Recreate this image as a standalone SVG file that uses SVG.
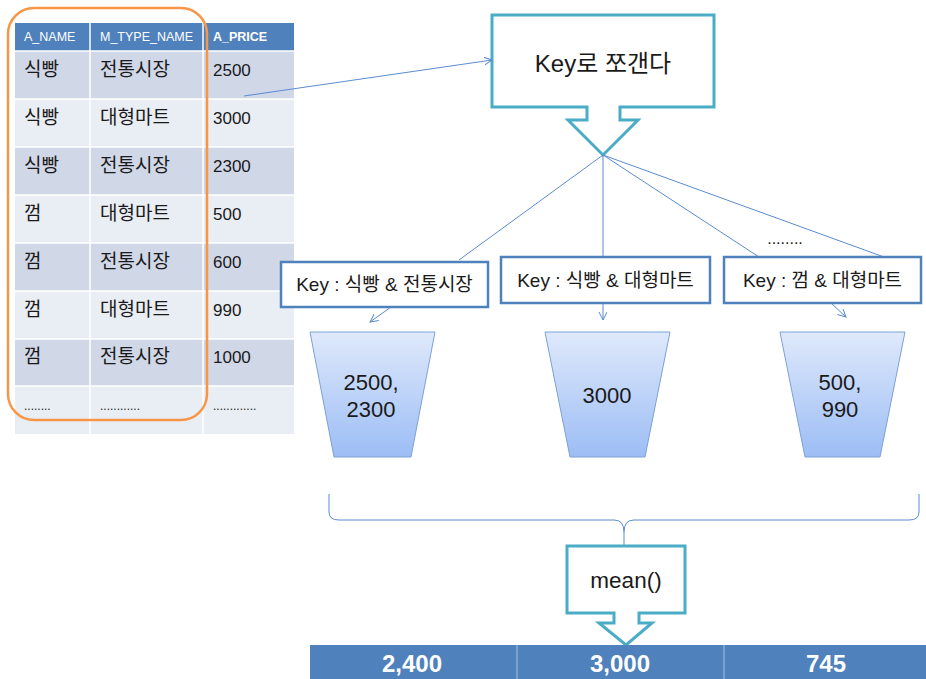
<svg xmlns="http://www.w3.org/2000/svg" width="926" height="679" viewBox="0 0 926 679">
<style>
text{font-family:"Liberation Sans","Noto Sans CJK KR",sans-serif;fill:#1a1a1a}
.hd{font-size:12.5px;fill:#fff}
.cell{font-size:17px}
.ko{font-size:19px}
.dots{font-size:12px}
.dark{fill:#d0d7e7}
.light{fill:#e9edf4}
.key rect{fill:#fff;stroke:#4f81bd;stroke-width:2.5}
.key text{font-size:19px;text-anchor:middle}
.callout{fill:#fff;stroke:#4bacc6;stroke-width:3;stroke-linejoin:miter}
.bucket{fill:url(#bg);stroke:#7da2d6;stroke-width:1}
.bt{font-size:22px;text-anchor:middle}
.conn line,.conn path{stroke:#5b8bd0;stroke-width:1;fill:none}
.res{font-size:24px;font-weight:bold;fill:#fff;text-anchor:middle}
</style>
<defs>
<linearGradient id="bg" x1="0" y1="0" x2="0" y2="1">
<stop offset="0" stop-color="#dfe9fb"/>
<stop offset="1" stop-color="#9cbdf5"/>
</linearGradient>
<marker id="ah" markerWidth="10" markerHeight="10" refX="8" refY="4" orient="auto" markerUnits="userSpaceOnUse">
<path d="M0,0 L8,4 L0,8" fill="none" stroke="#5b8bd0" stroke-width="1"/>
</marker>
</defs>

<g id="source-table">
<rect x="15" y="23" width="279" height="28" fill="#4f81bd"/>
<rect class="dark" x="15" y="51" width="279" height="48"/>
<rect class="light" x="15" y="99" width="279" height="48"/>
<rect class="dark" x="15" y="147" width="279" height="48"/>
<rect class="light" x="15" y="195" width="279" height="48"/>
<rect class="dark" x="15" y="243" width="279" height="48"/>
<rect class="light" x="15" y="291" width="279" height="48"/>
<rect class="dark" x="15" y="339" width="279" height="47"/>
<rect class="light" x="15" y="386" width="279" height="48"/>
<g stroke="#fff" stroke-width="1.5">
<line x1="90" y1="23" x2="90" y2="434"/>
<line x1="203" y1="23" x2="203" y2="434"/>
<line x1="15" y1="51" x2="294" y2="51"/>
<line x1="15" y1="99" x2="294" y2="99"/>
<line x1="15" y1="147" x2="294" y2="147"/>
<line x1="15" y1="195" x2="294" y2="195"/>
<line x1="15" y1="243" x2="294" y2="243"/>
<line x1="15" y1="291" x2="294" y2="291"/>
<line x1="15" y1="339" x2="294" y2="339"/>
<line x1="15" y1="386" x2="294" y2="386"/>
</g>
<text class="hd" x="24" y="41">A_NAME</text>
<text class="hd" x="100" y="41">M_TYPE_NAME</text>
<text class="hd" x="213" y="41" font-weight="bold">A_PRICE</text>
<text class="ko" x="24" y="76">식빵</text><text class="ko" x="100" y="76">전통시장</text><text class="cell" x="213" y="76">2500</text>
<text class="ko" x="24" y="124">식빵</text><text class="ko" x="100" y="124">대형마트</text><text class="cell" x="213" y="124">3000</text>
<text class="ko" x="24" y="172">식빵</text><text class="ko" x="100" y="172">전통시장</text><text class="cell" x="213" y="172">2300</text>
<text class="ko" x="24" y="220">껌</text><text class="ko" x="100" y="220">대형마트</text><text class="cell" x="213" y="220">500</text>
<text class="ko" x="24" y="268">껌</text><text class="ko" x="100" y="268">전통시장</text><text class="cell" x="213" y="268">600</text>
<text class="ko" x="24" y="316">껌</text><text class="ko" x="100" y="316">대형마트</text><text class="cell" x="213" y="316">990</text>
<text class="ko" x="24" y="363">껌</text><text class="ko" x="100" y="363">전통시장</text><text class="cell" x="213" y="363">1000</text>
<text class="dots" x="24" y="410">........</text><text class="dots" x="100" y="410">............</text><text class="dots" x="213" y="410">.............</text>
</g>

<g id="key-columns-highlight">
<rect x="8" y="8" width="199" height="412" rx="26" fill="none" stroke="#f79646" stroke-width="2.5"/>
</g>

<g id="split-callout">
<path class="callout" d="M492,15 H714 V107 H620 V120 H638 L603,155 L568,120 H587 V107 H492 Z"/>
<text x="603" y="72" font-size="24" text-anchor="middle">Key로 쪼갠다</text>
</g>

<g id="connectors" class="conn">
<line x1="244" y1="96" x2="492" y2="60" marker-end="url(#ah)"/>
<line x1="603" y1="155" x2="459" y2="260"/>
<line x1="603" y1="155" x2="603" y2="257"/>
<line x1="603" y1="155" x2="759" y2="257"/>
<line x1="603" y1="155" x2="884" y2="257"/>
<line x1="391" y1="307" x2="370" y2="322" marker-end="url(#ah)"/>
<line x1="603" y1="304" x2="603" y2="320" marker-end="url(#ah)"/>
<line x1="832" y1="304" x2="846" y2="317" marker-end="url(#ah)"/>
<path d="M329,494 V512 Q329,520 339,520 H614 Q624,520 624,532 V546 M624,532 Q624,520 634,520 H909 Q919,520 919,512 V494"/>
</g>

<text x="785" y="244" font-size="16" text-anchor="middle">........</text>

<g id="key-bread-traditional" class="key">
<rect x="281" y="262" width="207" height="45"/>
<text x="384.5" y="291">Key : 식빵 &amp; 전통시장</text>
</g>
<g id="key-bread-mart" class="key">
<rect x="501" y="257" width="209" height="46"/>
<text x="605.5" y="287">Key : 식빵 &amp; 대형마트</text>
</g>
<g id="key-gum-mart" class="key">
<rect x="724" y="257" width="197" height="46"/>
<text x="822.5" y="287">Key : 껌 &amp; 대형마트</text>
</g>

<g id="bucket-1">
<path class="bucket" d="M310,332 H435 L411,457 H334 Z"/>
<text class="bt" x="371" y="390">2500,</text>
<text class="bt" x="371" y="417">2300</text>
</g>
<g id="bucket-2">
<path class="bucket" d="M545,332 H670 L645,457 H570 Z"/>
<text class="bt" x="607" y="403">3000</text>
</g>
<g id="bucket-3">
<path class="bucket" d="M780,332 H905 L880,457 H805 Z"/>
<text class="bt" x="840" y="390">500,</text>
<text class="bt" x="840" y="417">990</text>
</g>

<g id="mean-callout">
<path class="callout" d="M567,546 H685 V613 H639 V623 H652 L626,645 L599,623 H614 V613 H567 Z"/>
<text x="626" y="588" font-size="22.5" text-anchor="middle">mean()</text>
</g>

<g id="result-table">
<rect x="310" y="645" width="616" height="34" fill="#4f81bd"/>
<line x1="517" y1="645" x2="517" y2="679" stroke="#a9c0e0" stroke-width="1"/>
<line x1="724" y1="645" x2="724" y2="679" stroke="#a9c0e0" stroke-width="1"/>
<text class="res" x="412" y="672">2,400</text>
<text class="res" x="620" y="672">3,000</text>
<text class="res" x="826" y="672">745</text>
</g>
</svg>
